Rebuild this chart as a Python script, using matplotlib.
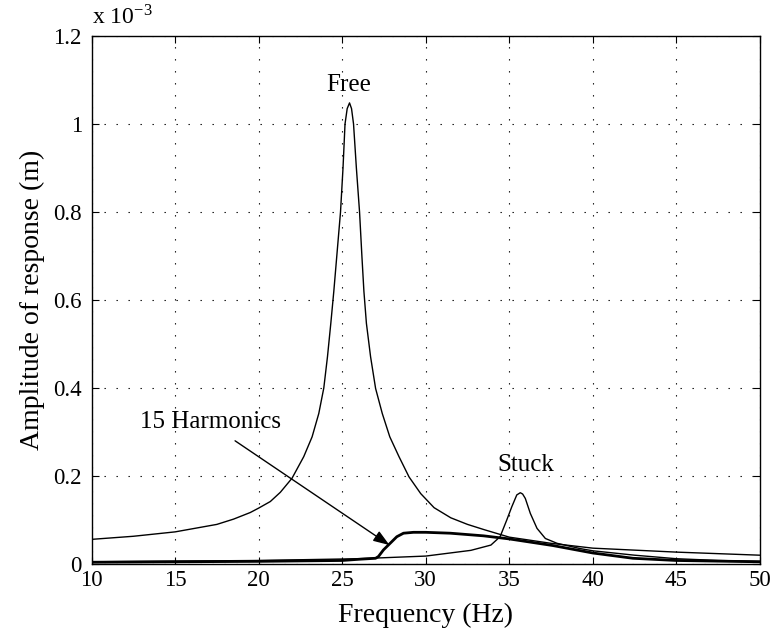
import matplotlib
matplotlib.use("Agg")
import matplotlib.pyplot as plt

plt.rcParams["font.family"] = ["Liberation Serif", "DejaVu Serif"]
plt.rcParams["mathtext.fontset"] = "stix"

# amplitudes are in units of 1e-3 m
free_f = [10, 12.5, 15, 17.5, 18.5, 19.5, 20, 20.7, 21.3, 22.0, 22.7, 23.2, 23.6, 23.9, 24.12,
          24.32, 24.5, 24.7, 24.9, 25.05, 25.17, 25.3, 25.44, 25.56, 25.68, 25.85, 26.04, 26.18,
          26.3, 26.45, 26.7, 27.0, 27.4, 27.85, 28.4, 29.0, 29.7, 30.5, 31.5, 32.5, 33.5, 35,
          37.5, 40, 45, 50]
free_a = [0.056, 0.063, 0.073, 0.09, 0.102, 0.117, 0.127, 0.142, 0.163, 0.195, 0.244, 0.289, 0.342,
          0.40, 0.471, 0.547, 0.62, 0.71, 0.80, 0.90, 1.0, 1.035, 1.048, 1.035, 1.0, 0.90, 0.80,
          0.70, 0.62, 0.547, 0.471, 0.399, 0.342, 0.289, 0.244, 0.198, 0.16, 0.128, 0.105, 0.09,
          0.078, 0.061, 0.047, 0.036, 0.027, 0.020]

stuck_f = [10, 20, 26, 30, 32.7, 33.9, 34.45, 34.85, 35.15, 35.45, 35.66, 35.8, 35.96, 36.26,
           36.66, 37.16, 37.86, 39.25, 40, 42.5, 45, 47.5, 50]
stuck_a = [0.005, 0.008, 0.012, 0.018, 0.031, 0.043, 0.062, 0.10, 0.13, 0.157, 0.162, 0.159, 0.149,
           0.115, 0.081, 0.058, 0.047, 0.035, 0.030, 0.020, 0.012, 0.008, 0.006]

harm_f = [10, 20, 25, 26.1, 27.0, 27.17, 27.47, 27.87, 28.27, 28.67, 29.27, 30, 31.47, 33.46, 35,
          37.6, 40, 42.4, 45, 50]
harm_a = [0.004, 0.006, 0.008, 0.011, 0.013, 0.017, 0.032, 0.047, 0.062, 0.070, 0.072, 0.072, 0.070,
          0.064, 0.057, 0.042, 0.025, 0.013, 0.008, 0.005]

xticks = [10, 15, 20, 25, 30, 35, 40, 45, 50]
yticks = [0, 0.2, 0.4, 0.6, 0.8, 1.0, 1.2]
ytick_labels = ["0", "0.2", "0.4", "0.6", "0.8", "1", "1.2"]

fig = plt.figure(figsize=(7.79, 6.32), dpi=100)
ax = fig.add_axes([0.1175, 0.1076, 0.858, 0.8354])

ax.plot(free_f, free_a, color="black", lw=1.0)
ax.plot(stuck_f, stuck_a, color="black", lw=1.0)
ax.plot(harm_f, harm_a, color="black", lw=2.0)

ax.set_xlim(10, 50)
ax.set_ylim(0, 1.2)
ax.set_xticks(xticks)
ax.set_yticks(yticks)
ax.set_yticklabels(ytick_labels)
ax.tick_params(direction="in", top=True, right=True, labelsize=16.5, length=5, width=0.8)
ax.tick_params(axis="x", pad=4)
ax.tick_params(axis="y", pad=7)
ax.grid(True, linestyle=(0, (1.2, 9.6)), color="black", linewidth=0.8)
for s in ax.spines.values():
    s.set_linewidth(1.0)

ax.set_xlabel("Frequency (Hz)", fontsize=20, labelpad=9)
ax.set_ylabel("Amplitude of response (m)", fontsize=20, labelpad=6)

# exponent label above the y axis
ax.text(0.0, 1.012, r"x 10$^{\mathregular{-3}}$", transform=ax.transAxes, fontsize=17,
        ha="left", va="bottom")

ax.text(25.4, 1.075, "Free", fontsize=18, ha="center", va="baseline")
ax.text(35.99, 0.212, "Stuck", fontsize=18, ha="center", va="baseline")
ax.text(17.14, 0.308, "15 Harmonics", fontsize=18, ha="center", va="baseline")
ax.annotate("", xy=(27.83, 0.043), xytext=(18.59, 0.280),
            arrowprops=dict(arrowstyle="-|>,head_length=0.7,head_width=0.25", color="black",
                            lw=1.0, shrinkA=0, shrinkB=0, mutation_scale=14))

fig.savefig("out.png", dpi=100)
